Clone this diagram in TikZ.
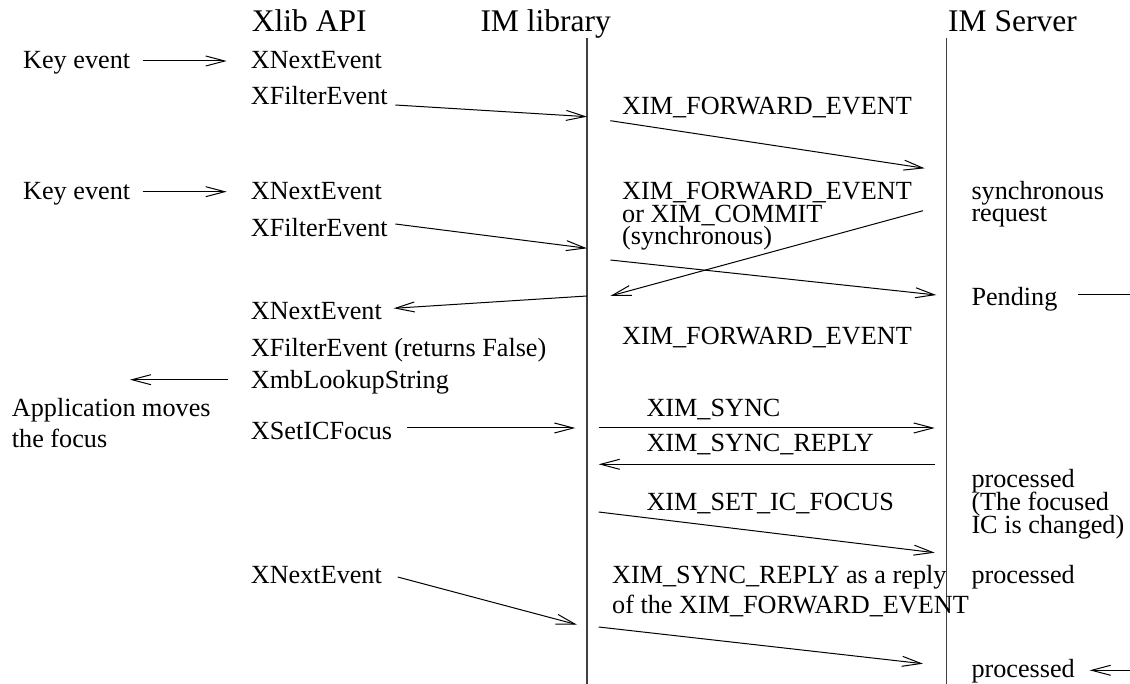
\documentclass[tikz,border=0pt]{standalone}
\usepackage{fontspec}
\setmainfont{Liberation Serif}
\usetikzlibrary{arrows.meta}
\begin{document}
\begin{tikzpicture}[x=1pt,y=-1pt,
  title/.style={font=\fontsize{31.5}{36}\selectfont, anchor=base west, inner sep=0pt},
  lbl/.style={font=\fontsize{26.2}{30}\selectfont, anchor=base west, inner sep=0pt},
  msg/.style={-{Straight Barb[length=19pt,width=10pt,line width=1pt]}, line width=1pt},
  plain/.style={line width=1pt},
  life/.style={line width=1.5pt, black!75}]
\useasboundingbox (0,0) rectangle (1130,684);

% titles
\node[title] (xlib)  at (251.7,31.7) {Xlib API};
\node[title] (imlib) at (480.3,31.7) {IM library};
\node[title] (imsrv) at (948,31.7)   {IM Server};

% lifelines
\coordinate (libtop) at (587,38.3);
\coordinate (libbot) at (587,684);
\coordinate (srvtop) at (946.3,38);
\coordinate (srvbot) at (946.3,684);
\draw[life] (libtop) -- (libbot);
\draw[life] (srvtop) -- (srvbot);

% left column labels
\node[lbl] (key1) at (23,68.3)   {Key event};
\node[lbl] (key2) at (23,199.3)  {Key event};
\node[lbl] (app1) at (11.7,417)  {Application moves};
\node[lbl] (app2) at (11.7,447)  {the focus};

% Xlib API column
\node[lbl] (xne1) at (250.7,68.3)  {XNextEvent};
\node[lbl] (xfe1) at (250.7,105)   {XFilterEvent};
\node[lbl] (xne2) at (250.7,199.3) {XNextEvent};
\node[lbl] (xfe2) at (250.7,236.7) {XFilterEvent};
\node[lbl] (xne3) at (250.7,320)   {XNextEvent};
\node[lbl] (xfef) at (250.7,357)   {XFilterEvent (returns False)};
\node[lbl] (xmb)  at (250.7,388.7) {XmbLookupString};
\node[lbl] (xset) at (250.7,439.3) {XSetICFocus};
\node[lbl] (xne4) at (250.7,583.7) {XNextEvent};

% protocol labels
\node[lbl] (fwd1)  at (622,115)   {XIM\_FORWARD\_EVENT};
\node[lbl] (fwd2a) at (622,199.3) {XIM\_FORWARD\_EVENT};
\node[lbl] (fwd2b) at (622,222.7) {or XIM\_COMMIT};
\node[lbl] (fwd2c) at (622,245)   {(synchronous)};
\node[lbl] (fwd3)  at (622,345)   {XIM\_FORWARD\_EVENT};
\node[lbl] (sync)  at (646.3,417) {XIM\_SYNC};
\node[lbl] (syncr) at (646.3,451.3) {XIM\_SYNC\_REPLY};
\node[lbl] (setic) at (646.3,510.3) {XIM\_SET\_IC\_FOCUS};
\node[lbl] (rep1)  at (612,583.7) {XIM\_SYNC\_REPLY as a reply};
\node[lbl] (rep2)  at (612,613.7) {of the XIM\_FORWARD\_EVENT};

% server column
\node[lbl] (syn1)  at (971.3,199.3) {synchronous};
\node[lbl] (syn2)  at (971.3,221.7) {request};
\node[lbl] (pend)  at (971.3,306)   {Pending};
\node[lbl] (proc1) at (971.3,487)   {processed};
\node[lbl] (proc1b) at (971.3,510.3) {(The focused};
\node[lbl] (proc1c) at (971.3,533.7) {IC is changed)};
\node[lbl] (proc2) at (971.3,583.7) {processed};
\node[lbl] (proc3) at (971.3,677)   {processed};

% endpoints
\coordinate (k1s) at (142.7,61);    \coordinate (k1e) at (226.7,61);
\coordinate (f1s) at (395.3,105);   \coordinate (f1e) at (587,116.7);
\coordinate (m1s) at (610.3,120.7); \coordinate (m1e) at (924.7,168.3);
\coordinate (k2s) at (142.7,191.7); \coordinate (k2e) at (226.7,191.7);
\coordinate (f2s) at (395.3,224);   \coordinate (f2e) at (587,248.3);
\coordinate (m2s) at (923,210.7);   \coordinate (m2e) at (610.3,296);
\coordinate (m3s) at (610.3,260);   \coordinate (m3e) at (936.3,295);
\coordinate (n3s) at (587,296);     \coordinate (n3e) at (393.7,308.3);
\coordinate (ps)  at (1078,295);    \coordinate (pe)  at (1130,295);
\coordinate (lks) at (228.3,379.7); \coordinate (lke) at (130,379.7);
\coordinate (fcs) at (407,428);     \coordinate (fce) at (575.3,428);
\coordinate (sys) at (598.7,428);   \coordinate (sye) at (934.7,428);
\coordinate (srs) at (934.7,464.3); \coordinate (sre) at (598.7,464.3);
\coordinate (scs) at (598.7,512);   \coordinate (sce) at (934.7,552.7);
\coordinate (n4s) at (397.7,577);   \coordinate (n4e) at (577,624.7);
\coordinate (r4s) at (598.7,627);   \coordinate (r4e) at (923,663.7);
\coordinate (p3s) at (1130,670.3);  \coordinate (p3e) at (1089.7,670.3);

% messages
\draw[msg] (k1s) -- (k1e);
\draw[msg] (f1s) -- (f1e);
\draw[msg] (m1s) -- (m1e);
\draw[msg] (k2s) -- (k2e);
\draw[msg] (f2s) -- (f2e);
\draw[msg] (m2s) -- (m2e);
\draw[msg] (m3s) -- (m3e);
\draw[msg] (n3s) -- (n3e);
\draw[plain] (ps) -- (pe);
\draw[msg] (lks) -- (lke);
\draw[msg] (fcs) -- (fce);
\draw[msg] (sys) -- (sye);
\draw[msg] (srs) -- (sre);
\draw[msg] (scs) -- (sce);
\draw[msg] (n4s) -- (n4e);
\draw[msg] (r4s) -- (r4e);
\draw[msg] (p3s) -- (p3e);
\end{tikzpicture}
\end{document}
